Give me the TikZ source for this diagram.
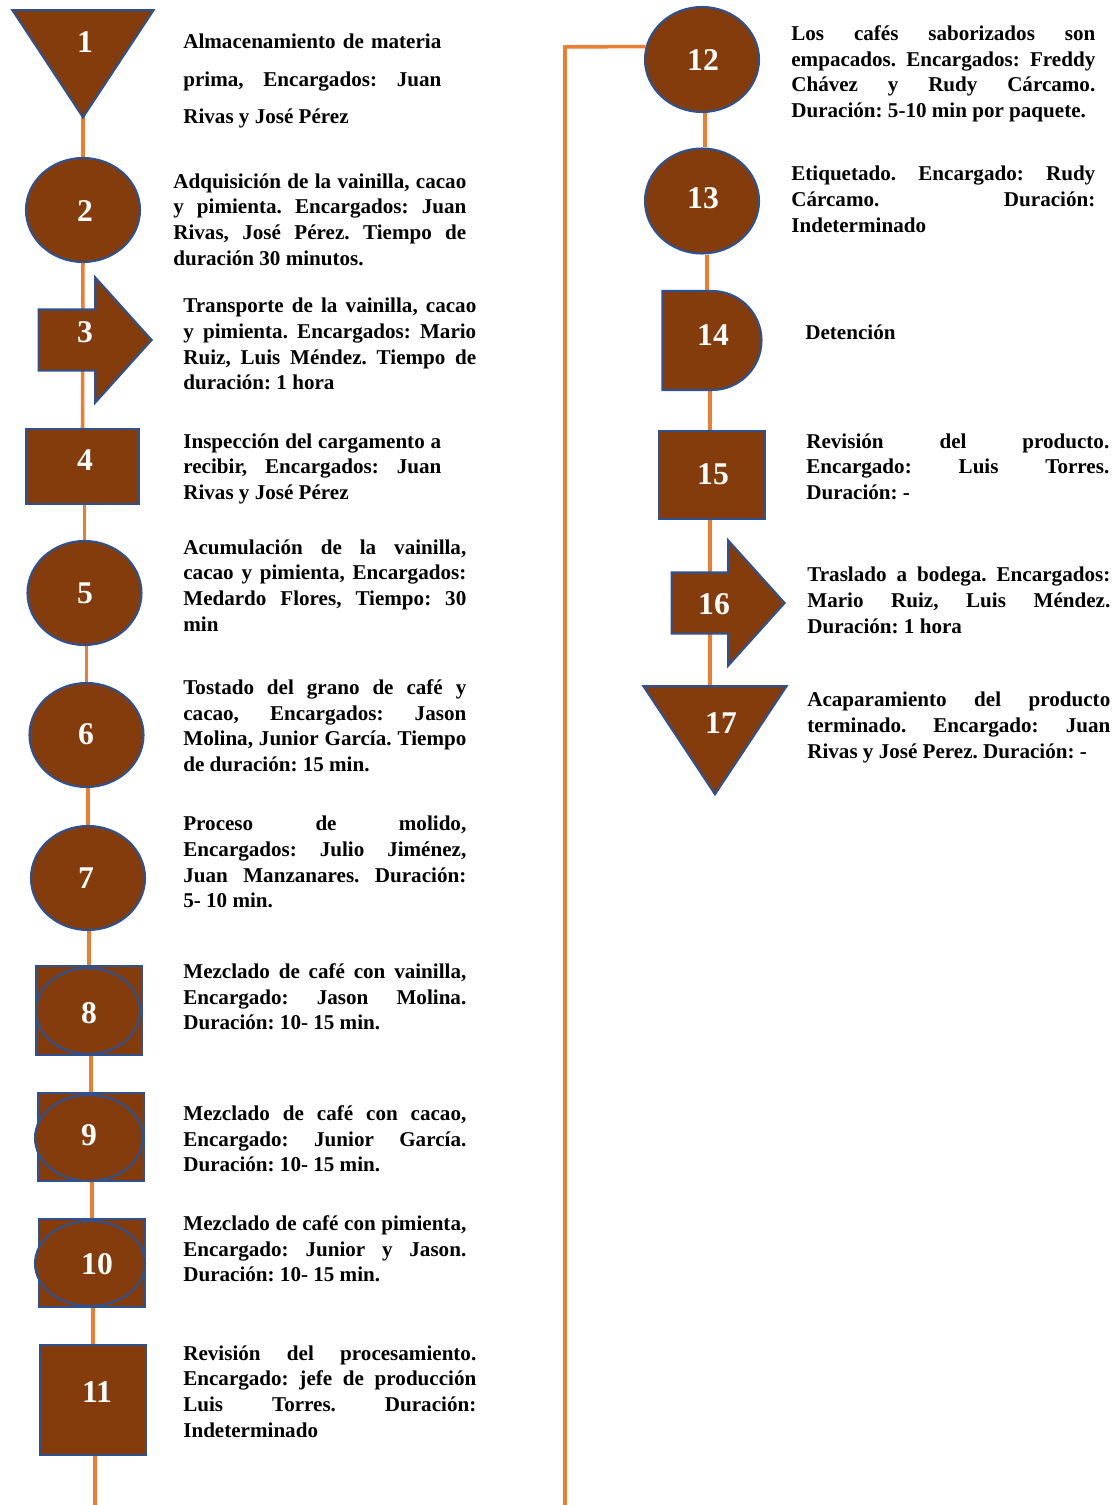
\documentclass[tikz,border=0pt]{standalone}
\usepackage{fontspec}
\setmainfont{Liberation Serif}
\usepackage{xcolor}
\usetikzlibrary{shapes.geometric,shapes.arrows,shapes.misc,backgrounds}
\definecolor{brownfill}{HTML}{843C0C}
\definecolor{blueborder}{HTML}{2F528F}
\definecolor{orangeline}{HTML}{ED7D31}
\setlength\parindent{0pt}
\hyphenpenalty=10000
\exhyphenpenalty=10000
\frenchspacing
\tikzstyle{shapebase} = [draw=blueborder, fill=brownfill, line width=1.2pt, inner sep=0pt]
\tikzstyle{circ} = [shapebase, ellipse, minimum width=2.28cm, minimum height=2.08cm]
\tikzstyle{box} = [shapebase, rectangle, minimum width=2.12cm, minimum height=1.76cm]
\tikzstyle{tri} = [shapebase, isosceles triangle, isosceles triangle stretches, shape border rotate=270, minimum width=2.82cm, minimum height=2.14cm]
\tikzstyle{arrowblock} = [shapebase, single arrow, single arrow tip angle=96, inner xsep=0pt, inner ysep=0.59cm, single arrow head extend=0.64cm, minimum height=2.26cm]
\tikzstyle{delaybox} = [shapebase, rounded rectangle, rounded rectangle left arc=none, minimum width=1.8cm, minimum height=1.98cm]
\tikzstyle{num} = [text=white, inner sep=0pt, font=\fontsize{18}{20}\selectfont\bfseries]
\tikzstyle{desc} = [anchor=north west, inner sep=0pt, align=justify, font=\fontsize{12}{14.7}\selectfont\bfseries]
\tikzstyle{line} = [draw=orangeline, line width=2pt]

\begin{document}
\begin{tikzpicture}[x=0.02cm, y=-0.02cm]
\useasboundingbox (0,0) rectangle (1117,1505);
% left column
\node [tri, anchor=apex] (s1) at (83,120) {};
\node [circ] (s2) at (83,210) {};
\node [arrowblock, anchor=tip] (s3) at (153,340) {};
\node [box, minimum width=2.26cm, minimum height=1.5cm] (s4) at (82.5,466.5) {};
\node [circ] (s5) at (84.5,593) {};
\node [circ] (s6) at (86.5,735) {};
\node [circ] (s7) at (88,878) {};
\node [box, minimum height=1.78cm] (s8) at (89,1010.5) {};
\node [circ, minimum width=2.08cm, minimum height=1.72cm] (e8) at (88,1011) {};
\node [box] (s9) at (91,1137) {};
\node [circ, minimum width=2.16cm, minimum height=1.72cm] (e9) at (89,1138) {};
\node [box] (s10) at (92,1263) {};
\node [circ, minimum width=2.2cm, minimum height=1.7cm] (e10) at (90,1263.5) {};
\node [box, minimum height=2.2cm] (s11) at (93,1400) {};
\coordinate (leftend) at (95,1505);
% right column
\node [circ, minimum height=2.1cm] (s12) at (702,59.5) {};
\node [circ, minimum height=2.1cm] (s13) at (702,201) {};
\node [delaybox] (s14) at (712,340.5) {};
\node [box] (s15) at (712,475) {};
\node [arrowblock, minimum height=2.26cm] (s16) at (786,603) [anchor=tip] {};
\node [tri, minimum width=2.86cm, minimum height=2.16cm, anchor=apex] (s17) at (715,797) {};
\coordinate (corner) at (565,47);
\coordinate (rightend) at (565,1505);

% numbers
\node [num] (n1) at (85,42) {1};
\node [num] (n2) at (85,211) {2};
\node [num] (n3) at (85,332) {3};
\node [num] (n4) at (85,460) {4};
\node [num] (n5) at (85,593) {5};
\node [num] (n6) at (86,734) {6};
\node [num] (n7) at (86,878) {7};
\node [num] (n8) at (89,1013) {8};
\node [num] (n9) at (89,1135) {9};
\node [num] (n10) at (97,1264) {10};
\node [num] (n11) at (97,1392) {11};
\node [num] (n12) at (703,60) {12};
\node [num] (n13) at (703,198) {13};
\node [num] (n14) at (713,335) {14};
\node [num] (n15) at (713,474) {15};
\node [num] (n16) at (714,604) {16};
\node [num] (n17) at (721,723) {17};

% descriptions
\node [desc, text width=5.16cm, font=\fontsize{12}{21.3}\selectfont\bfseries] (t1) at (183,34) {Almacenamiento de materia\linebreak prima, Encargados: Juan\linebreak Rivas y José Pérez};
\node [desc, text width=5.86cm] (t2) at (173,173) {Adquisición de la vainilla, cacao\linebreak y pimienta. Encargados: Juan\linebreak Rivas, José Pérez. Tiempo de\linebreak duración 30 minutos.};
\node [desc, text width=5.86cm] (t3) at (183,297.5) {Transporte de la vainilla, cacao\linebreak y pimienta. Encargados: Mario\linebreak Ruiz, Luis Méndez. Tiempo de\linebreak duración: 1 hora};
\node [desc, text width=5.16cm] (t4) at (183,433) {Inspección del cargamento a\linebreak recibir, Encargados: Juan\linebreak Rivas y José Pérez};
\node [desc, text width=5.66cm] (t5) at (183,539) {Acumulación de la vainilla,\linebreak cacao y pimienta, Encargados:\linebreak Medardo Flores, Tiempo: 30\linebreak min};
\node [desc, text width=5.66cm] (t6) at (183,679) {Tostado del grano de café y\linebreak cacao, Encargados: Jason\linebreak Molina, Junior García. Tiempo\linebreak de duración: 15 min.};
\node [desc, text width=5.66cm] (t7) at (183,815.5) {Proceso de molido,\linebreak Encargados: Julio Jiménez,\linebreak Juan Manzanares. Duración:\linebreak 5- 10 min.};
\node [desc, text width=5.66cm] (t8) at (183,963) {Mezclado de café con vainilla,\linebreak Encargado: Jason Molina.\linebreak Duración: 10- 15 min.};
\node [desc, text width=5.66cm] (t9) at (183,1105) {Mezclado de café con cacao,\linebreak Encargado: Junior García.\linebreak Duración: 10- 15 min.};
\node [desc, text width=5.66cm] (t10) at (183,1215) {Mezclado de café con pimienta,\linebreak Encargado: Junior y Jason.\linebreak Duración: 10- 15 min.};
\node [desc, text width=5.86cm] (t11) at (183,1345) {Revisión del procesamiento.\linebreak Encargado: jefe de producción\linebreak Luis Torres. Duración:\linebreak Indeterminado};
\node [desc, text width=6.08cm] (t12) at (791,25) {Los cafés saborizados son\linebreak empacados. Encargados: Freddy\linebreak Chávez y Rudy Cárcamo.\linebreak Duración: 5-10 min por paquete.};
\node [desc, text width=6.08cm] (t13) at (791,165.5) {Etiquetado. Encargado: Rudy\linebreak Cárcamo. Duración:\linebreak Indeterminado};
\node [desc] (t14) at (805,324) {Detención};
\node [desc, text width=6.06cm] (t15) at (806,433) {Revisión del producto.\linebreak Encargado: Luis Torres.\linebreak Duración: -};
\node [desc, text width=6.06cm] (t16) at (807,566.5) {Traslado a bodega. Encargados:\linebreak Mario Ruiz, Luis Méndez.\linebreak Duración: 1 hora};
\node [desc, text width=6.06cm] (t17) at (807,692) {Acaparamiento del producto\linebreak terminado. Encargado: Juan\linebreak Rivas y José Perez. Duración: -};

% connectors
\begin{pgfonlayer}{background}
\path [line] (s1.center) -- (s2.north);
\path [line] (s2.south) -- (s4.north);
\path [line] (s5.north |- s4.south) -- (s5.north);
\path [line] (s6.north |- s5.south) -- (s6.north);
\path [line] (s7.north |- s6.south) -- (s7.north);
\path [line] (s8.north |- s7.south) -- (s8.north);
\path [line] (s9.north |- s8.south) -- (s9.north);
\path [line] (s10.north |- s9.south) -- (s10.north);
\path [line] (s11.north |- s10.south) -- (s11.north);
\path [line] (leftend |- s11.south) -- (leftend);
\path [line] (s12.167) -- (corner) -- (rightend);
\path [line] ([xshift=0.06cm]s12.south) -- ([xshift=0.06cm]s12.south |- s13.north);
\path [line] ([xshift=0.1cm]s13.south) -- ([xshift=0.1cm]s13.south |- s14.north);
\path [line] ([xshift=-0.04cm]s14.south) -- ([xshift=-0.04cm]s14.south |- s15.north);
\path [line] ([xshift=-0.04cm]s15.south) -- ([xshift=-0.04cm]s15.south |- s17.center);
\end{pgfonlayer}
\end{tikzpicture}
\end{document}
